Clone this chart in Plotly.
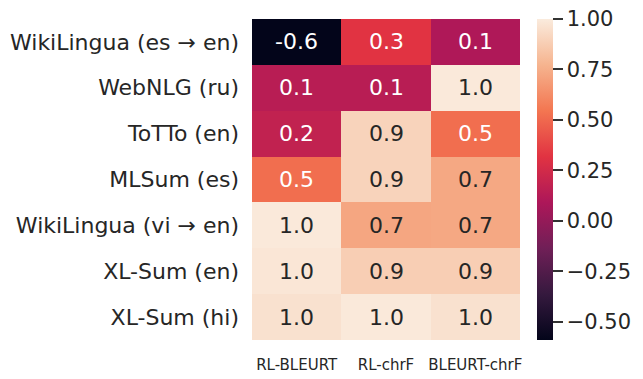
import plotly.graph_objects as go

datasets = [
    "WikiLingua (es → en)",
    "WebNLG (ru)",
    "ToTTo (en)",
    "MLSum (es)",
    "WikiLingua (vi → en)",
    "XL-Sum (en)",
    "XL-Sum (hi)",
]
pairs = ["RL-BLEURT", "RL-chrF", "BLEURT-chrF"]

rl_bleurt = [-0.59, 0.14, 0.18, 0.52, 0.99, 0.98, 0.96]
rl_chrf = [0.32, 0.14, 0.90, 0.90, 0.72, 0.88, 0.99]
bleurt_chrf = [0.10, 0.99, 0.52, 0.73, 0.73, 0.88, 0.96]

z = [list(r) for r in zip(rl_bleurt, rl_chrf, bleurt_chrf)]

# seaborn "rocket" approximation
rocket = [
    [0.0, "#03051a"],
    [1 / 7, "#35193e"],
    [2 / 7, "#701f57"],
    [3 / 7, "#ad1759"],
    [4 / 7, "#e13342"],
    [5 / 7, "#f37651"],
    [6 / 7, "#f6b48f"],
    [1.0, "#faebdd"],
]

DARK = "#262626"
FONT = "DejaVu Sans"

fig = go.Figure(go.Heatmap(
    z=z, x=pairs, y=datasets,
    colorscale=rocket, zmin=-0.59, zmax=1.0,
    colorbar=dict(
        x=1.065, xanchor="left", xpad=0, ypad=0,
        y=0.5, len=1, thickness=16, outlinewidth=0,
        tickvals=[-0.5, -0.25, 0, 0.25, 0.5, 0.75, 1.0],
        tickformat=".2f", ticks="outside", ticklen=10, tickwidth=2,
        tickcolor="#333333", ticklabeloverflow="allow",
        tickfont=dict(size=21, color=DARK, family=FONT),
    ),
    hoverinfo="skip",
))

for i, name in enumerate(datasets):
    for j, p in enumerate(pairs):
        v = z[i][j]
        fig.add_annotation(
            x=p, y=name, text=f"{v:.1f}", showarrow=False,
            font=dict(size=22, family=FONT, color="white" if v < 0.6 else DARK),
        )

fig.update_xaxes(showgrid=False, zeroline=False, ticks="", ticklabelstandoff=14,
                 automargin=False,
                 tickfont=dict(size=15, color=DARK, family=FONT))
fig.update_yaxes(showgrid=False, zeroline=False, ticks="", autorange="reversed",
                 automargin=False, ticklabelstandoff=12,
                 tickfont=dict(size=22, color=DARK, family=FONT))
# page body adds an 8px margin, so the figure is 8px smaller on each side
fig.update_layout(
    width=635, height=371,
    margin=dict(l=244, r=123, t=11, b=39),
    plot_bgcolor="white", paper_bgcolor="white",
    font=dict(family=FONT, color=DARK),
)
fig.write_html("out.html")
